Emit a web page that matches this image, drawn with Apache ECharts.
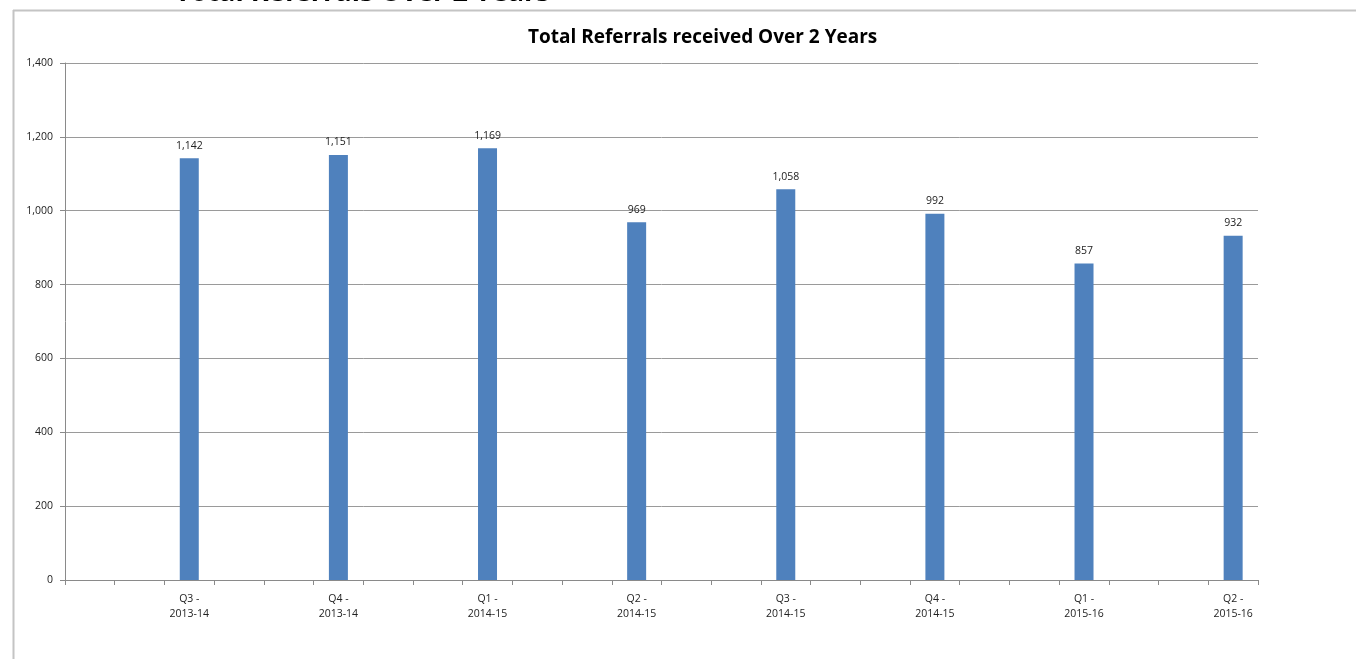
<!DOCTYPE html>
<html>
<head>
<meta charset="utf-8">
<script src="https://cdn.jsdelivr.net/npm/echarts@6/dist/echarts.min.js"></script>
<style>
html,body{margin:0;padding:0;background:#fff;}
#chart{width:1356px;height:659px;}
</style>
</head>
<body>
<div id="chart"></div>
<script>
// Data
var categories = ['Q3 -\n2013-14','Q4 -\n2013-14','Q1 -\n2014-15','Q2 -\n2014-15','Q3 -\n2014-15','Q4 -\n2014-15','Q1 -\n2015-16','Q2 -\n2015-16'];
var referrals = [1142, 1151, 1169, 969, 1058, 992, 857, 932];
var yTicks = [0, 200, 400, 600, 800, 1000, 1200, 1400];

// The original axis has 3 slots per quarter, with the value in the last slot
var slotsPer = 3;
var slotNames = [], slotLabels = {}, slotValues = [];
for (var i = 0; i < categories.length; i++) {
  for (var j = 0; j < slotsPer; j++) {
    var key = 's' + (i * slotsPer + j);
    slotNames.push(key);
    if (j === slotsPer - 1) { slotLabels[key] = categories[i]; slotValues.push(referrals[i]); }
    else { slotLabels[key] = ''; slotValues.push('-'); }
  }
}

var font = "'Open Sans', 'Liberation Sans', sans-serif";
var chart = echarts.init(document.getElementById('chart'), null, {renderer: 'canvas'});
chart.setOption({
  animation: false,
  backgroundColor: '#fff',
  title: {
    text: 'Total Referrals received Over 2 Years',
    left: 523,
    top: 23,
    textStyle: {fontFamily: font, fontSize: 19, fontWeight: 'bold', color: '#000'}
  },
  graphic: [
    {type: 'text', x: 175, y: -20, silent: true, style: {text: 'Total Referrals Over 2 Years', font: "bold 27px 'Open Sans', sans-serif", fill: '#000', textVerticalAlign: 'top'}},
    {type: 'line', shape: {x1: 13, y1: 10.5, x2: 1356, y2: 10.5}, style: {stroke: '#c4c4c4', lineWidth: 2}},
    {type: 'line', shape: {x1: 13.5, y1: 10, x2: 13.5, y2: 659}, style: {stroke: '#c4c4c4', lineWidth: 2}}
  ],
  grid: {left: 65, right: 98, top: 63, bottom: 79, containLabel: false},
  xAxis: {
    type: 'category',
    data: slotNames,
    boundaryGap: true,
    axisLine: {lineStyle: {color: '#8a8a8a', width: 1}},
    axisTick: {show: true, interval: 0, length: 5, lineStyle: {color: '#8a8a8a'}},
    axisLabel: {
      interval: 0, margin: 12, color: '#222', fontFamily: font, fontSize: 10.5, lineHeight: 15,
      formatter: function (v) { return slotLabels[v]; }
    },
    splitLine: {show: false}
  },
  yAxis: {
    type: 'value',
    min: yTicks[0], max: yTicks[yTicks.length - 1], interval: yTicks[1] - yTicks[0],
    axisLine: {show: true, lineStyle: {color: '#8a8a8a'}},
    axisTick: {show: true, length: 5, lineStyle: {color: '#8a8a8a'}},
    axisLabel: {
      margin: 12, color: '#222', fontFamily: font, fontSize: 10.5,
      formatter: function (v) { return v.toLocaleString('en-US'); }
    },
    splitLine: {lineStyle: {color: '#9a9a9a', width: 1}}
  },
  series: [{
    type: 'bar',
    data: slotValues,
    barWidth: 19,
    itemStyle: {color: '#4f81bd'},
    label: {
      show: true, position: 'top', distance: 7, color: '#222', fontFamily: font, fontSize: 10.5,
      formatter: function (p) { return Number(p.value).toLocaleString('en-US'); }
    }
  }]
});
</script>
</body>
</html>
